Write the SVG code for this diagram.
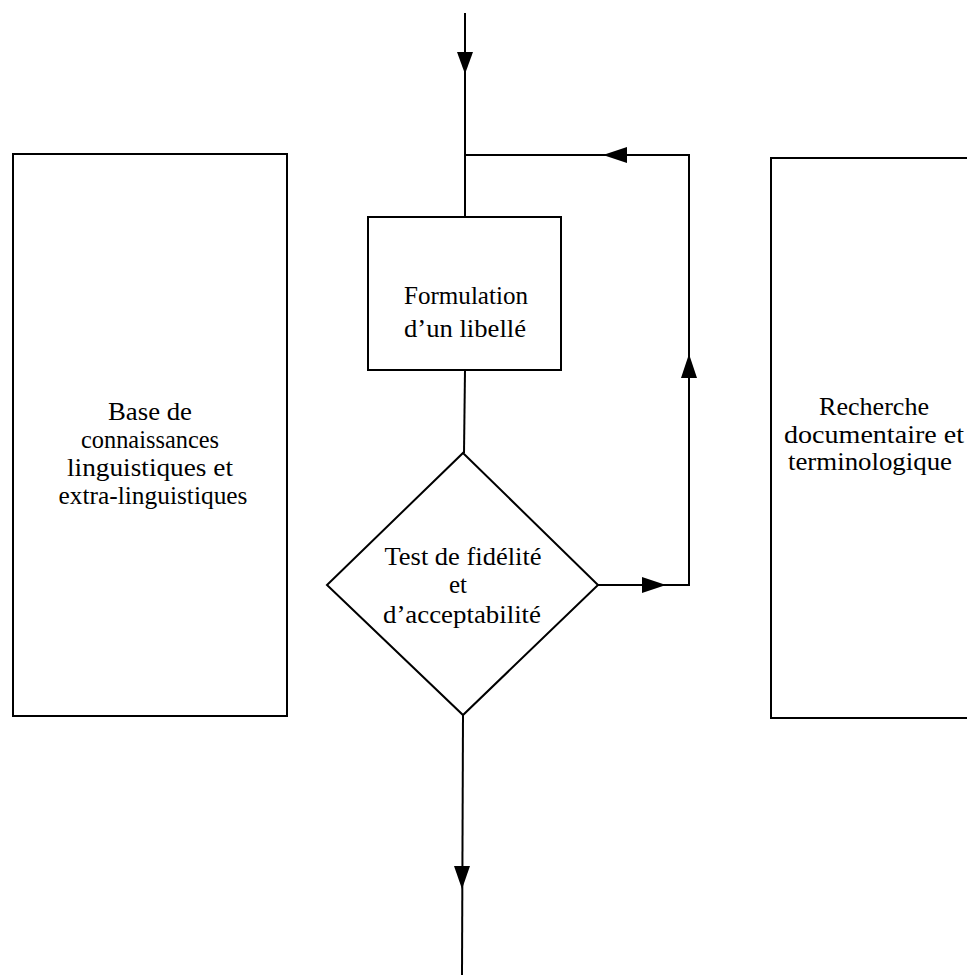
<svg xmlns="http://www.w3.org/2000/svg" width="967" height="978" viewBox="0 0 967 978">
<style>
.box{fill:none;stroke:#000;stroke-width:2}
.ln{fill:none;stroke:#000;stroke-width:2}
.ah{fill:#000;stroke:none}
text{font-family:"Liberation Serif","Times New Roman",serif;font-size:25px;fill:#000;text-anchor:middle}
</style>
<rect width="967" height="978" fill="#fff"/>
<g id="connectors">
<line class="ln" x1="465" y1="13" x2="465" y2="217"/>
<polyline class="ln" points="465,155 689,155 689,585 598,585"/>
<line class="ln" x1="465" y1="370" x2="464" y2="453"/>
<line class="ln" x1="463" y1="715" x2="462" y2="975"/>
<polygon class="ah" points="465,74 457,52 473,52"/>
<polygon class="ah" points="603,155 627,147 627,163"/>
<polygon class="ah" points="689,354 681,378 697,378"/>
<polygon class="ah" points="666,585 642,577 642,593"/>
<polygon class="ah" points="462,889 454,866 470,866"/>
</g>
<g id="base">
<rect class="box" x="13" y="154" width="274" height="562"/>
<text x="150" y="420" textLength="84" lengthAdjust="spacingAndGlyphs">Base de</text>
<text x="150" y="448" textLength="138" lengthAdjust="spacingAndGlyphs">connaissances</text>
<text x="150" y="476" textLength="166" lengthAdjust="spacingAndGlyphs">linguistiques et</text>
<text x="153" y="504" textLength="189" lengthAdjust="spacingAndGlyphs">extra-linguistiques</text>
</g>
<g id="formulation">
<rect class="box" x="368" y="217" width="193" height="153"/>
<text x="466" y="304" textLength="124" lengthAdjust="spacingAndGlyphs">Formulation</text>
<text x="465" y="337" textLength="122" lengthAdjust="spacingAndGlyphs">d’un libellé</text>
</g>
<g id="test">
<polygon class="box" points="463,453 598,585 463,715 327,585"/>
<text x="463" y="565" textLength="157" lengthAdjust="spacingAndGlyphs">Test de fidélité</text>
<text x="458" y="593">et</text>
<text x="462" y="623" textLength="158" lengthAdjust="spacingAndGlyphs">d’acceptabilité</text>
</g>
<g id="recherche">
<polyline class="box" points="970,158 771,158 771,718 970,718"/>
<text x="874" y="415" textLength="110" lengthAdjust="spacingAndGlyphs">Recherche</text>
<text x="874" y="443" textLength="180" lengthAdjust="spacingAndGlyphs">documentaire et</text>
<text x="870" y="470" textLength="164" lengthAdjust="spacingAndGlyphs">terminologique</text>
</g>
</svg>
